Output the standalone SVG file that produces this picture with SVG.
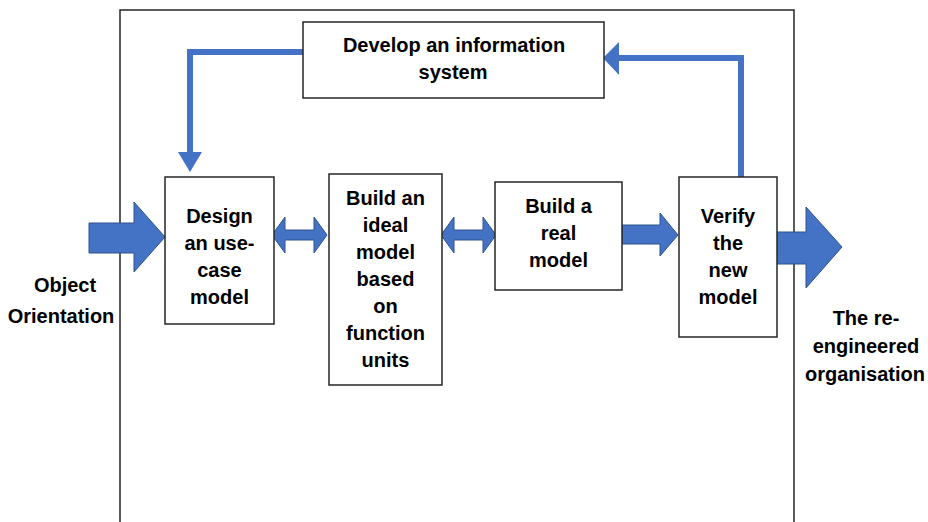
<svg xmlns="http://www.w3.org/2000/svg" width="928" height="522" viewBox="0 0 928 522">
  <style>
    .box { fill: #ffffff; stroke: #262626; stroke-width: 1.5; }
    .frame { fill: none; stroke: #262626; stroke-width: 1.5; }
    .lbl { font-family: "Liberation Sans", Arial, sans-serif; font-weight: bold; font-size: 20px; fill: #000000; text-anchor: middle; }
    .block { fill: #4472c4; stroke: #2f528f; stroke-width: 1; }
    .line { fill: none; stroke: #4472c4; stroke-width: 6; }
    .head { fill: #4472c4; stroke: none; }
  </style>

  <!-- outer boundary -->
  <path class="frame" d="M120,524 V10 H794 V524"/>

  <g id="connectors">
    <!-- feedback: information system back to use-case design -->
    <polyline class="line" points="303,52 190,52 190,155"/>
    <polygon class="head" points="178,152 202,152 190,172"/>
    <!-- feedback: verification up to information system -->
    <polyline class="line" points="741,177 741,58 616,58"/>
    <polygon class="head" points="619,42 619,75 603,58"/>
    <!-- input arrow -->
    <polygon class="block" points="89,223 134,223 134,202 165,237 134,272 134,253 89,253"/>
    <!-- double arrow: use-case <-> ideal model -->
    <polygon class="block" points="272,235 285,217 285,230 314,230 314,217 327,235 314,253 314,240 285,240 285,253"/>
    <!-- double arrow: ideal model <-> real model -->
    <polygon class="block" points="441,235 454,217 454,230 483,230 483,217 496,235 483,253 483,240 454,240 454,253"/>
    <!-- real model -> verify -->
    <polygon class="block" points="622,225 660,225 660,213 678,235 660,256 660,244 622,244"/>
    <!-- output arrow -->
    <polygon class="block" points="777,232 806,232 806,207 842,247 806,288 806,264 777,264"/>
  </g>

  <g id="develop">
    <rect class="box" x="303" y="22" width="301" height="76"/>
    <text class="lbl" x="454" y="52">Develop an information</text>
    <text class="lbl" x="453" y="79">system</text>
  </g>

  <g id="design">
    <rect class="box" x="165" y="177" width="109" height="147"/>
    <text class="lbl" x="219.5" y="223">Design</text>
    <text class="lbl" x="219.5" y="250">an use-</text>
    <text class="lbl" x="219.5" y="277">case</text>
    <text class="lbl" x="219.5" y="304">model</text>
  </g>

  <g id="ideal">
    <rect class="box" x="329" y="174" width="113" height="211"/>
    <text class="lbl" x="385.5" y="205">Build an</text>
    <text class="lbl" x="385.5" y="232">ideal</text>
    <text class="lbl" x="385.5" y="259">model</text>
    <text class="lbl" x="385.5" y="286">based</text>
    <text class="lbl" x="385.5" y="313">on</text>
    <text class="lbl" x="385.5" y="340">function</text>
    <text class="lbl" x="385.5" y="367">units</text>
  </g>

  <g id="real">
    <rect class="box" x="495" y="182" width="127" height="108"/>
    <text class="lbl" x="558.5" y="213">Build a</text>
    <text class="lbl" x="558.5" y="240">real</text>
    <text class="lbl" x="558.5" y="267">model</text>
  </g>

  <g id="verify">
    <rect class="box" x="679" y="177" width="98" height="160"/>
    <text class="lbl" x="728" y="223">Verify</text>
    <text class="lbl" x="728" y="250">the</text>
    <text class="lbl" x="728" y="277">new</text>
    <text class="lbl" x="728" y="304">model</text>
  </g>

  <g id="input">
    <text class="lbl" x="65" y="292">Object</text>
    <text class="lbl" x="61" y="323">Orientation</text>
  </g>

  <g id="output">
    <text class="lbl" x="866" y="325">The re-</text>
    <text class="lbl" x="866" y="353">engineered</text>
    <text class="lbl" x="865" y="381">organisation</text>
  </g>
</svg>
